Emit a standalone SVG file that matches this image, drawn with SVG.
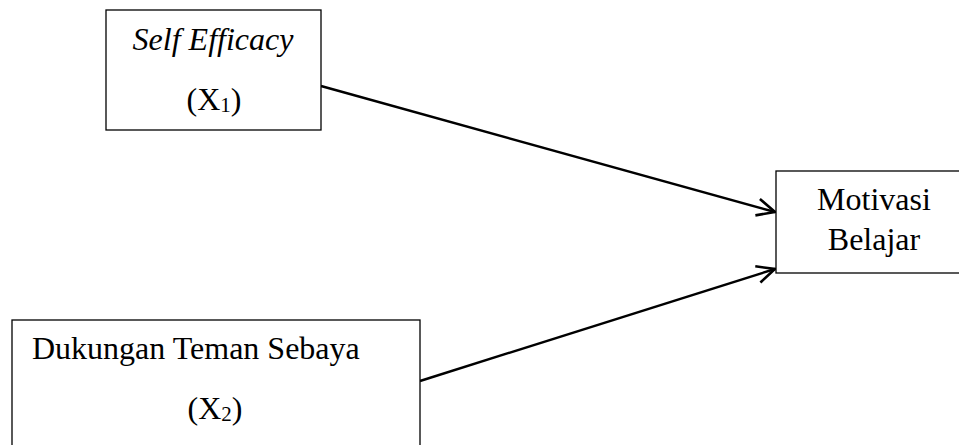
<svg xmlns="http://www.w3.org/2000/svg" width="959" height="445" viewBox="0 0 959 445">
<style>
.box{fill:#fff;stroke:#000;stroke-width:1.3}
.t{font-family:"Liberation Serif","Times New Roman",serif;font-size:32px;fill:#000}
.s{font-size:21px}
.c{stroke:#000;stroke-width:2.4;fill:none}
</style>
<defs>
<marker id="ah" markerWidth="24" markerHeight="24" refX="20" refY="11" orient="auto" markerUnits="userSpaceOnUse">
<path d="M2,2.5 L20,11 L2,19.5" fill="none" stroke="#000" stroke-width="2.6"/>
</marker>
</defs>
<rect width="959" height="445" fill="#fff"/>
<g id="connectors">
<line class="c" x1="321" y1="86" x2="775" y2="212" marker-end="url(#ah)"/>
<line class="c" x1="420" y1="381" x2="775" y2="269" marker-end="url(#ah)"/>
</g>
<g id="node-x1">
<rect class="box" x="106" y="10" width="215" height="120"/>
<text class="t" x="213" y="50" text-anchor="middle" font-style="italic">Self Efficacy</text>
<text class="t" x="214" y="110" text-anchor="middle">(X<tspan class="s" dy="2">1</tspan><tspan dy="-2">)</tspan></text>
</g>
<g id="node-y">
<rect class="box" x="776" y="171" width="190" height="102"/>
<text class="t" x="874" y="210" text-anchor="middle">Motivasi</text>
<text class="t" x="874" y="250" text-anchor="middle">Belajar</text>
</g>
<g id="node-x2">
<rect class="box" x="12" y="320" width="408" height="140"/>
<text class="t" x="32" y="359">Dukungan Teman Sebaya</text>
<text class="t" x="215" y="419" text-anchor="middle">(X<tspan class="s" dy="2">2</tspan><tspan dy="-2">)</tspan></text>
</g>
</svg>
